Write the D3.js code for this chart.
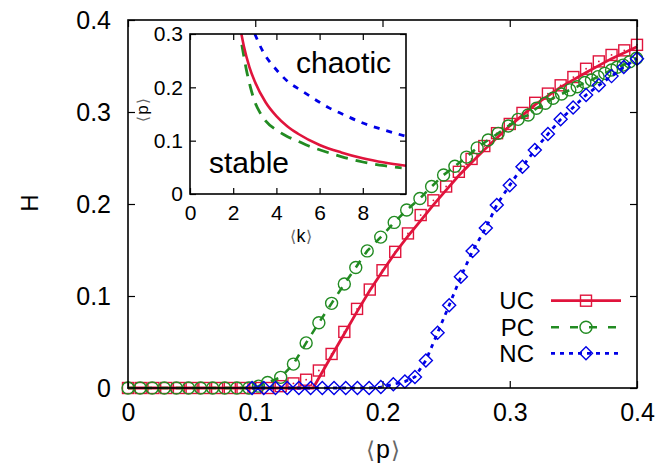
<!DOCTYPE html>
<html><head><meta charset="utf-8">
<script src="https://cdn.jsdelivr.net/npm/d3@7"></script>
<style>
html,body{margin:0;padding:0;background:#fff;}
svg{display:block;font-family:"Liberation Sans",Arial,Helvetica,sans-serif;}
</style></head>
<body>
<svg id="chart" width="660" height="470"></svg>
<script>
// ---------- main data ----------
const ucP = [0,0.01,0.02,0.03,0.04,0.05,0.06,0.07,0.08,0.09,0.10,0.11,0.12,0.13,0.14,0.15,0.16,0.17,0.18,0.19,0.20,0.21,0.22,0.23,0.24,0.25,0.26,0.27,0.28,0.29,0.30,0.31,0.32,0.33,0.34,0.35,0.36,0.37,0.38,0.39,0.40];
const ucH = [0,0,0,0,0,0,0,0,0,0,0,0,0.002,0.005,0.009,0.019,0.037,0.061,0.086,0.107,0.128,0.148,0.168,0.188,0.204,0.219,0.235,0.249,0.263,0.277,0.287,0.299,0.310,0.320,0.329,0.338,0.347,0.355,0.362,0.367,0.373];
const ucLineP = [0,0.1455,0.16,0.17,0.18,0.19,0.20,0.21,0.22,0.23,0.24,0.25,0.26,0.27,0.28,0.29,0.30,0.32,0.34,0.36,0.38,0.40];
const ucLineH = [0,0,0.035,0.059,0.083,0.106,0.127,0.147,0.165,0.182,0.199,0.215,0.231,0.245,0.259,0.272,0.285,0.308,0.327,0.343,0.358,0.371];
const pcP = [0,0.0095,0.019,0.0285,0.038,0.0475,0.057,0.0665,0.076,0.0855,0.095,0.1025,0.1097,0.12,0.13,0.14,0.15,0.16,0.17,0.179,0.188,0.1986,0.2092,0.219,0.2294,0.2386,0.248,0.2569,0.266,0.2744,0.283,0.2909,0.2988,0.3066,0.3145,0.321,0.328,0.334,0.3407,0.3472,0.353,0.359,0.3642,0.3694,0.3747,0.38,0.3844,0.3891,0.3943,0.3996];
const pcH = [0,0,0,0,0,0,0,0,0,0,0,0.002,0.006,0.0116,0.026,0.049,0.071,0.092,0.113,0.131,0.149,0.164,0.180,0.1935,0.206,0.219,0.2315,0.241,0.251,0.261,0.2696,0.2768,0.2848,0.292,0.2967,0.304,0.3095,0.315,0.3196,0.324,0.3275,0.332,0.3348,0.3384,0.342,0.3457,0.3486,0.351,0.3547,0.3584];
const ncP = [0.0975,0.1067,0.1159,0.1251,0.1343,0.1435,0.1527,0.1619,0.1711,0.1803,0.1895,0.1987,0.2085,0.2176,0.2255,0.2341,0.2433,0.2524,0.2616,0.2708,0.2812,0.2898,0.300,0.31,0.3197,0.330,0.34,0.3498,0.36,0.37,0.38,0.3896,0.40];
const ncH = [0,0,0,0,0,0,0,0,0,0,0,0.001,0.004,0.007,0.012,0.030,0.060,0.090,0.121,0.149,0.174,0.199,0.2205,0.2405,0.2587,0.276,0.292,0.305,0.3185,0.329,0.339,0.349,0.358];
const mainTicks = [0,0.1,0.2,0.3,0.4];
const mainTickLabels = ["0","0.1","0.2","0.3","0.4"];
const legendLabels = ["UC","PC","NC"];

// ---------- inset data ----------
const ucInK = [2.38,2.5,2.75,3,3.5,4,4.5,5,6,7,8,9,10];
const ucInP = [0.3,0.276,0.238,0.211,0.172,0.146,0.127,0.113,0.092,0.078,0.067,0.059,0.053];
const pcInK = [2.4,2.6,2.8,3.0,3.25,3.5,4,4.5,5,5.5,6,7,8,9,9.8];
const pcInP = [0.28,0.235,0.2,0.173,0.152,0.137,0.12,0.108,0.099,0.09,0.083,0.07,0.06,0.053,0.049];
const ncInK = [3.0,3.38,4,4.5,5.23,6,6.46,7,8,9,10];
const ncInP = [0.3,0.267,0.233,0.212,0.192,0.172,0.161,0.151,0.133,0.12,0.108];
const insetXTicks = [0,2,4,6,8];
const insetYTicks = [0,0.1,0.2,0.3];
const insetYTickLabels = ["0","0.1","0.2","0.3"];

const RED = "#e0143c", GREEN = "#228b22", BLUE = "#0000e6";

const svg = d3.select("#chart");
const x = d3.scaleLinear().domain([0,0.4]).range([128,637]);
const y = d3.scaleLinear().domain([0,0.4]).range([388,20]);

// bracketed label helper: thin grey angle brackets around a letter
function bracketLabel(sel, letter, size){
  sel.append("tspan").attr("fill","#666").attr("font-family","DejaVu Sans, sans-serif").attr("font-weight",200).attr("font-size",size*0.9).text("⟨");
  sel.append("tspan").attr("dx",size*0.05).text(letter);
  sel.append("tspan").attr("dx",size*0.05).attr("fill","#666").attr("font-family","DejaVu Sans, sans-serif").attr("font-weight",200).attr("font-size",size*0.9).text("⟩");
}

svg.append("clipPath").attr("id","mainclip").append("rect")
  .attr("x",x(0)-8).attr("y",y(0.4)).attr("width",x(0.4)-x(0)+16).attr("height",y(0)-y(0.4)+8);

const fmtMain = d => mainTickLabels[mainTicks.indexOf(d)];
const axL = svg.append("g").attr("transform",`translate(${x(0)},0)`)
  .call(d3.axisLeft(y).tickValues(mainTicks).tickFormat(fmtMain).tickSize(-7).tickPadding(17));
const axR = svg.append("g").attr("transform",`translate(${x(0.4)},0)`)
  .call(d3.axisRight(y).tickValues(mainTicks).tickFormat("").tickSize(-7));
const axB = svg.append("g").attr("transform",`translate(0,${y(0)})`)
  .call(d3.axisBottom(x).tickValues(mainTicks).tickFormat(fmtMain).tickSize(-7).tickPadding(15));
const axT = svg.append("g").attr("transform",`translate(0,${y(0.4)})`)
  .call(d3.axisTop(x).tickValues(mainTicks).tickFormat("").tickSize(-7));
[axL,axR,axB,axT].forEach(g=>{
  g.select(".domain").remove();
  g.selectAll(".tick line").attr("stroke","#000").attr("stroke-width",1.2);
  g.selectAll("text").attr("font-size",25).attr("fill","#000").attr("font-family","Liberation Sans, Arial, sans-serif");
});

svg.append("text").attr("transform","translate(30,203) rotate(-90)").attr("text-anchor","middle")
  .attr("dy","0.35em").attr("font-size",24).text("H");
svg.append("text").attr("x",383).attr("y",458).attr("text-anchor","middle").attr("font-size",25)
  .call(s=>bracketLabel(s,"p",25));

const plot = svg.append("g").attr("clip-path","url(#mainclip)");

const sq = 11;
plot.append("g").selectAll("rect").data(ucP).join("rect")
  .attr("x",d=>x(d)-sq/2).attr("y",(d,i)=>y(ucH[i])-sq/2).attr("width",sq).attr("height",sq)
  .attr("fill","none").attr("stroke",RED).attr("stroke-width",1.4);
plot.append("g").selectAll("circle").data(ucP).join("circle")
  .attr("cx",d=>x(d)).attr("cy",(d,i)=>y(ucH[i])).attr("r",0.9).attr("fill",RED);
plot.append("path").datum(ucLineP.map((p,i)=>[p,ucLineH[i]]))
  .attr("d",d3.line().x(d=>x(d[0])).y(d=>y(d[1])))
  .attr("fill","none").attr("stroke",RED).attr("stroke-width",2.8);

plot.append("path").datum(pcP.map((p,i)=>[p,pcH[i]]))
  .attr("d",d3.line().x(d=>x(d[0])).y(d=>y(d[1])))
  .attr("fill","none").attr("stroke",GREEN).attr("stroke-width",2.6).attr("stroke-dasharray","8,8");
plot.append("g").selectAll("circle").data(pcP).join("circle")
  .attr("cx",d=>x(d)).attr("cy",(d,i)=>y(pcH[i])).attr("r",6)
  .attr("fill","none").attr("stroke",GREEN).attr("stroke-width",1.4);

plot.append("path").datum(ncP.map((p,i)=>[p,ncH[i]]))
  .attr("d",d3.line().x(d=>x(d[0])).y(d=>y(d[1])))
  .attr("fill","none").attr("stroke",BLUE).attr("stroke-width",2.8).attr("stroke-dasharray","4,5");
const dm = 6.5;
plot.append("g").selectAll("path").data(ncP).join("path")
  .attr("d",(d,i)=>{const cx=x(d), cy=y(ncH[i]); return `M${cx},${cy-dm}L${cx+dm},${cy}L${cx},${cy+dm}L${cx-dm},${cy}Z`;})
  .attr("fill","none").attr("stroke",BLUE).attr("stroke-width",1.4);

svg.append("rect").attr("x",x(0)).attr("y",y(0.4)).attr("width",x(0.4)-x(0)).attr("height",y(0)-y(0.4))
  .attr("fill","none").attr("stroke","#000").attr("stroke-width",1.6);

// legend
const legRows = [300.7,327.3,353.3];
const legX0 = 551, legX1 = 621, legM = 586;
const lg = svg.append("g");
legendLabels.forEach((lab,i)=>{
  lg.append("text").attr("x",534).attr("y",legRows[i]).attr("dy","0.36em").attr("text-anchor","end")
    .attr("font-size",24).text(lab);
});
lg.append("line").attr("x1",legX0).attr("x2",legX1).attr("y1",legRows[0]).attr("y2",legRows[0])
  .attr("stroke",RED).attr("stroke-width",2.8);
lg.append("rect").attr("x",legM-sq/2).attr("y",legRows[0]-sq/2).attr("width",sq).attr("height",sq)
  .attr("fill","none").attr("stroke",RED).attr("stroke-width",1.4);
lg.append("line").attr("x1",legX0).attr("x2",legX1).attr("y1",legRows[1]).attr("y2",legRows[1])
  .attr("stroke",GREEN).attr("stroke-width",2.6).attr("stroke-dasharray","8,11");
lg.append("circle").attr("cx",legM).attr("cy",legRows[1]).attr("r",6)
  .attr("fill","none").attr("stroke",GREEN).attr("stroke-width",1.4);
lg.append("line").attr("x1",legX0).attr("x2",legX1).attr("y1",legRows[2]).attr("y2",legRows[2])
  .attr("stroke",BLUE).attr("stroke-width",2.8).attr("stroke-dasharray","4,5");
lg.append("path").attr("d",`M${legM},${legRows[2]-dm}L${legM+dm},${legRows[2]}L${legM},${legRows[2]+dm}L${legM-dm},${legRows[2]}Z`)
  .attr("fill","none").attr("stroke",BLUE).attr("stroke-width",1.4);

// ---------- inset ----------
const ix = d3.scaleLinear().domain([0,10]).range([190,406]);
const iy = d3.scaleLinear().domain([0,0.3]).range([194,34]);
const inset = svg.append("g");
inset.append("rect").attr("x",ix(0)).attr("y",iy(0.3)).attr("width",ix(10)-ix(0)).attr("height",iy(0)-iy(0.3)).attr("fill","#fff");
svg.append("clipPath").attr("id","insetclip").append("rect")
  .attr("x",ix(0)).attr("y",iy(0.3)).attr("width",ix(10)-ix(0)).attr("height",iy(0)-iy(0.3));

const fmtIY = d => insetYTickLabels[insetYTicks.indexOf(d)];
const iL = inset.append("g").attr("transform",`translate(${ix(0)},0)`)
  .call(d3.axisLeft(iy).tickValues(insetYTicks).tickFormat(fmtIY).tickSize(-6).tickPadding(7));
const iR = inset.append("g").attr("transform",`translate(${ix(10)},0)`)
  .call(d3.axisRight(iy).tickValues(insetYTicks).tickFormat("").tickSize(-6));
const iB = inset.append("g").attr("transform",`translate(0,${iy(0)})`)
  .call(d3.axisBottom(ix).tickValues(insetXTicks).tickFormat(d3.format("d")).tickSize(-6).tickPadding(11));
const iT = inset.append("g").attr("transform",`translate(0,${iy(0.3)})`)
  .call(d3.axisTop(ix).tickValues(insetXTicks).tickFormat("").tickSize(-6));
[iL,iR,iB,iT].forEach(g=>{
  g.select(".domain").remove();
  g.selectAll(".tick line").attr("stroke","#000").attr("stroke-width",1.2);
  g.selectAll("text").attr("font-size",21).attr("fill","#000").attr("font-family","Liberation Sans, Arial, sans-serif");
});

const icurves = inset.append("g").attr("clip-path","url(#insetclip)");
const iline = d3.line().x(d=>ix(d[0])).y(d=>iy(d[1])).curve(d3.curveMonotoneX);
icurves.append("path").datum(ncInK.map((k,i)=>[k,ncInP[i]])).attr("d",iline)
  .attr("fill","none").attr("stroke",BLUE).attr("stroke-width",2.8).attr("stroke-dasharray","6,7");
icurves.append("path").datum(pcInK.map((k,i)=>[k,pcInP[i]])).attr("d",iline)
  .attr("fill","none").attr("stroke",GREEN).attr("stroke-width",2.8).attr("stroke-dasharray","12,8");
icurves.append("path").datum(ucInK.map((k,i)=>[k,ucInP[i]])).attr("d",iline)
  .attr("fill","none").attr("stroke",RED).attr("stroke-width",2.6);

inset.append("rect").attr("x",ix(0)).attr("y",iy(0.3)).attr("width",ix(10)-ix(0)).attr("height",iy(0)-iy(0.3))
  .attr("fill","none").attr("stroke","#000").attr("stroke-width",1.6);

inset.append("text").attr("x",296).attr("y",73).attr("font-size",30).text("chaotic");
inset.append("text").attr("x",209).attr("y",173).attr("font-size",30).text("stable");
inset.append("text").attr("x",301).attr("y",242).attr("text-anchor","middle").attr("font-size",18)
  .call(s=>bracketLabel(s,"k",18));
inset.append("text").attr("transform","translate(142,110) rotate(-90)").attr("text-anchor","middle")
  .attr("dy","0.35em").attr("font-size",17).call(s=>bracketLabel(s,"p",17));
</script>
</body></html>
